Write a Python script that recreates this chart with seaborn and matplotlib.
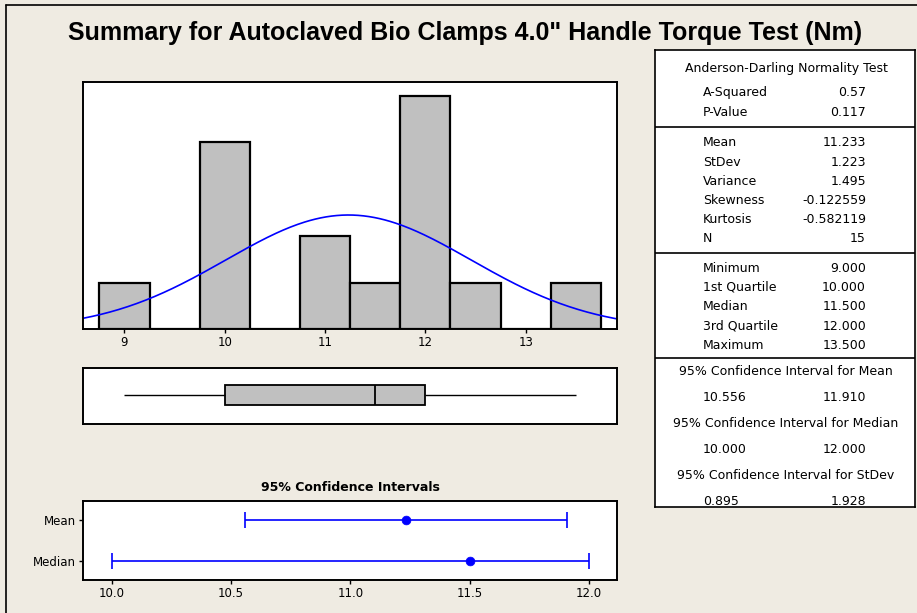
import numpy as np
import pandas as pd
import matplotlib
matplotlib.use('Agg')
import matplotlib.pyplot as plt
from matplotlib.lines import Line2D
import seaborn as sns

# torque readings (Nm)
torque = [9.0, 10.0, 10.0, 10.0, 10.0, 11.0, 11.0, 11.5,
          12.0, 12.0, 12.0, 12.0, 12.0, 12.5, 13.5]
hist_ticks = [9, 10, 11, 12, 13]

fit_mean = 11.233
fit_sd = 1.223

ci_labels = ['Mean', 'Median']
ci_est = [11.233, 11.5]
ci_low = [10.556, 10.0]
ci_high = [11.910, 12.0]
ci_ticks = [10.0, 10.5, 11.0, 11.5, 12.0]

ad_labels = ['A-Squared', 'P-Value']
ad_values = ['0.57', '0.117']
desc_labels = ['Mean', 'StDev', 'Variance', 'Skewness', 'Kurtosis', 'N']
desc_values = ['11.233', '1.223', '1.495', '-0.122559', '-0.582119', '15']
quart_labels = ['Minimum', '1st Quartile', 'Median', '3rd Quartile', 'Maximum']
quart_values = ['9.000', '10.000', '11.500', '12.000', '13.500']
ci_titles = ['95% Confidence Interval for Mean',
             '95% Confidence Interval for Median',
             '95% Confidence Interval for StDev']
ci_table = [('10.556', '11.910'), ('10.000', '12.000'), ('0.895', '1.928')]

BG = '#EFEBE2'
GREY = '#C0C0C0'
W, H = 917, 613

sns.set_theme(style='white')
plt.rcParams['font.family'] = ['DejaVu Sans']
plt.rcParams['axes.edgecolor'] = 'black'
plt.rcParams['text.color'] = 'black'
plt.rcParams['axes.labelcolor'] = 'black'
plt.rcParams['xtick.color'] = 'black'
plt.rcParams['ytick.color'] = 'black'


def px_axes(fig, left, top, right, bottom):
    # place an axes from pixel coordinates (origin top-left)
    return fig.add_axes([left / W, (H - bottom) / H, (right - left) / W, (bottom - top) / H])


fig = plt.figure(figsize=(W / 100, H / 100), dpi=100, facecolor=BG)

# outer frame (left and top edges visible)
fig.add_artist(Line2D([6 / W, 6 / W], [0, (H - 5) / H], color='black', lw=1.2))
fig.add_artist(Line2D([6 / W, 1], [(H - 5) / H, (H - 5) / H], color='black', lw=1.2))

fig.text(465 / W, (H - 33) / H, 'Summary for Autoclaved Bio Clamps 4.0" Handle Torque Test (Nm)',
         ha='center', va='center', fontsize=18, fontweight='bold', family='Liberation Sans')

# histogram with fitted normal curve
xmin, xmax = 8.59, 13.91
ax1 = px_axes(fig, 83.3, 81.7, 617, 329.3)
sns.histplot(x=torque, bins=np.arange(8.75, 14.0, 0.5), color=GREY, edgecolor='black',
             linewidth=1.6, alpha=1, ax=ax1)
xs = np.linspace(xmin, xmax, 300)
dens = len(torque) * 0.5 * np.exp(-0.5 * ((xs - fit_mean) / fit_sd) ** 2) / (fit_sd * np.sqrt(2 * np.pi))
sns.lineplot(x=xs, y=dens, color='#0000FF', lw=1.2, ax=ax1)
ax1.set_xlim(xmin, xmax)
ax1.set_ylim(0, 5.3)
ax1.set_xticks(hist_ticks)
ax1.set_yticks([])
ax1.set_xlabel('')
ax1.set_ylabel('')
ax1.tick_params(axis='x', labelsize=8.5, length=3, width=1, pad=2, bottom=True, color='black')

# box plot
ax2 = px_axes(fig, 83.3, 368.3, 617, 424)
sns.boxplot(x=torque, ax=ax2, color=GREY, width=0.36, linecolor='black', linewidth=1.3,
            showcaps=False, fill=True, saturation=1,
            whiskerprops={'linewidth': 1.0}, medianprops={'linewidth': 1.3})
ax2.set_xlim(xmin, xmax)
ax2.set_ylim(0.52, -0.48)
ax2.set_xticks([])
ax2.set_yticks([])

# confidence intervals
ax3 = px_axes(fig, 83.3, 500.7, 617, 580)
ci_df = pd.DataFrame({'label': ci_labels, 'est': ci_est, 'low': ci_low, 'high': ci_high})
pos = np.arange(len(ci_df))
ax3.errorbar(ci_df['est'], pos, xerr=[ci_df['est'] - ci_df['low'], ci_df['high'] - ci_df['est']],
             fmt='none', ecolor='#0000FF', elinewidth=1.2, capsize=6, capthick=1.2)
sns.scatterplot(x=ci_df['est'], y=pos, color='#0000FF', s=40, edgecolor='#0000FF', ax=ax3, zorder=3)
ax3.set_xlim(9.88, 12.118)
ax3.set_ylim(1.48, -0.48)
ax3.set_xticks(ci_ticks)
ax3.set_xticklabels([f'{t:.1f}' for t in ci_ticks])
ax3.set_yticks(pos)
ax3.set_yticklabels(ci_df['label'])
ax3.set_xlabel('')
ax3.set_ylabel('')
ax3.tick_params(labelsize=8.5, length=3, width=1, pad=2, bottom=True, left=True, color='black')
ax3.set_title('95% Confidence Intervals', fontsize=9, fontweight='bold', pad=7)

for ax in (ax1, ax2, ax3):
    for sp in ax.spines.values():
        sp.set_linewidth(1.4)
        sp.set_color('black')

# statistics table
axt = px_axes(fig, 655, 50, 915, 507)
axt.set_xlim(655, 915)
axt.set_ylim(507, 50)
axt.set_xticks([])
axt.set_yticks([])
for sp in axt.spines.values():
    sp.set_linewidth(1.2)
    sp.set_color('black')
for yy in (127.3, 252.7, 358.3):
    axt.axhline(yy, color='black', lw=1.2)

fs = 9
axt.text(786, 68.3, 'Anderson-Darling Normality Test', ha='center', va='center', fontsize=fs)
rows = [(ad_labels, ad_values, 92.7, 20.3), (desc_labels, desc_values, 143, 19.2),
        (quart_labels, quart_values, 268, 19.4)]
for labels, values, y0, step in rows:
    for i, (lab, val) in enumerate(zip(labels, values)):
        y = y0 + i * step
        axt.text(703, y, lab, ha='left', va='center', fontsize=fs)
        axt.text(866, y, val, ha='right', va='center', fontsize=fs)
for i, (title, (lo, hi)) in enumerate(zip(ci_titles, ci_table)):
    yt = 371.7 + i * 52
    axt.text(786, yt, title, ha='center', va='center', fontsize=fs)
    axt.text(703, yt + 25.5, lo, ha='left', va='center', fontsize=fs)
    axt.text(866, yt + 25.5, hi, ha='right', va='center', fontsize=fs)

fig.savefig('out.png', dpi=100, facecolor=BG)
